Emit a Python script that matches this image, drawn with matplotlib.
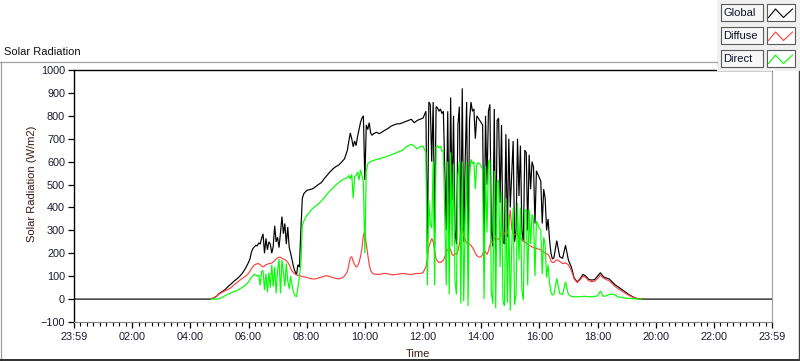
import numpy as np
import matplotlib
matplotlib.use("Agg")
import matplotlib.pyplot as plt
from matplotlib.ticker import MultipleLocator, FixedLocator, FixedFormatter
from matplotlib.patches import Rectangle

plt.rcParams['font.family'] = ['Liberation Sans', 'DejaVu Sans']

nan = np.nan

# ---------------- data ----------------
# sampling grid, minutes after midnight
time_min = np.concatenate([
    [0, 282],
    np.arange(288, 360, 6),
    np.arange(360, 474, 3),
    np.arange(474, 564, 6),
    np.arange(564, 618, 3),
    np.arange(618, 726, 6),
    np.arange(726, 990, 3),
    np.arange(990, 1170, 6),
    [1170, 1440],
])

global_wm2 = [
    0, 0,
    5, 12, 25, 33, 42, 55, 66, 78, 88, 100, 115, 135,
    160, 175, 205, 220, 228, 235, 232, 245, 240, 265, 285, 200, 265, 215, 250, 240, 200, 230, 320, 250,
    270, 225, 290, 360, 285, 330, 240, 315, 225, 200, 170, 140, 120, 105, 150, 140, 300, 440,
    460, 474, 478, 481, 490, 500, 508, 525, 540, 555, 568, 578, 585, 598, 612,
    650, 690, 725, 700, 665, 690, 670, 710, 740, 770, 790, 800, 520, 760, 740, 770, 725, 715,
    722, 728, 722, 730, 738, 745, 755, 760, 765, 765, 770, 775, 780, 785, 770, 780, 785, 790,
    820, 200, 860, 850, 600, 860, 290, 840, 835, 820, 830, 810, 820, 560, 300, 820, 250, 880, 430, 800,
    300, 240, 760, 840, 260, 920, 250, 600, 860, 220, 780, 860, 820, 830, 700, 800, 790, 780, 770, 760,
    220, 800, 500, 820, 850, 300, 230, 830, 190, 780, 790, 420, 760, 250, 240, 720, 270, 700, 400, 550,
    690, 250, 300, 700, 450, 670, 300, 250, 650, 640, 300, 630, 480, 600, 575, 330, 560, 545, 530, 515,
    330, 480, 440, 300, 350, 260, 200, 175,
    180, 255, 185, 178, 235, 170, 140, 92, 75, 88, 108, 100, 86, 83, 85, 100, 115, 98, 92, 88,
    76, 63, 54, 45, 36, 27, 18, 11, 5, 1,
    0, 0,
]

diffuse_wm2 = [
    nan, 0,
    5, 12, 23, 30, 37, 42, 50, 62, 72, 82, 92, 100,
    112, 122, 132, 142, 148, 152, 154, 155, 150, 145, 140, 145, 150, 152, 155, 155, 158, 162, 168, 175,
    180, 183, 182, 178, 175, 172, 168, 160, 150, 135, 122, 115, 110, 106, 104, 103, 100, 98,
    97, 95, 90, 88, 88, 92, 96, 100, 102, 98, 94, 90, 88, 92, 100,
    120, 150, 180, 185, 165, 150, 140, 145, 160, 185, 220, 280, 295, 240, 195, 150, 125, 115,
    110, 108, 108, 110, 112, 110, 107, 106, 108, 110, 112, 110, 108, 108, 110, 112, 112, 115,
    140, 175, 230, 245, 265, 250, 215, 175, 165, 160, 160, 165, 170, 185, 205, 215, 225, 215, 195, 190,
    200, 195, 210, 240, 290, 310, 280, 260, 245, 240, 240, 235, 225, 215, 200, 190, 185, 183, 185, 195,
    215, 205, 195, 210, 235, 255, 245, 265, 275, 265, 260, 270, 285, 280, 290, 275, 285, 330, 390, 310,
    285, 280, 285, 278, 270, 265, 260, 255, 250, 245, 240, 235, 230, 228, 225, 222, 220, 219, 218, 214,
    210, 205, 200, 197, 195, 185, 165, 160,
    160, 172, 165, 155, 158, 150, 125, 88, 72, 84, 100, 94, 80, 76, 78, 90, 105, 92, 85, 80,
    68, 55, 46, 38, 30, 22, 15, 9, 4, 1,
    0, nan,
]

direct_wm2 = [
    nan, 0,
    0, 0, 2, 8, 15, 22, 28, 33, 37, 45, 52, 62,
    75, 85, 95, 103, 108, 105, 100, 105, 60, 120, 125, 40, 110, 30, 115, 50, 150, 55, 140, 25,
    125, 175, 25, 170, 120, 55, 155, 80, 45, 100, 60, 30, 15, 10, 50, 100, 150, 320,
    340, 365, 380, 395, 405, 415, 428, 442, 458, 472, 485, 498, 508, 518, 525,
    530, 540, 525, 545, 440, 535, 540, 555, 520, 565, 540, 510, 200, 560, 590, 597, 600, 603,
    605, 610, 612, 617, 620, 625, 630, 634, 640, 645, 650, 662, 670, 676, 668, 655, 665, 668,
    640, 60, 430, 330, 310, 600, 60, 665, 670, 660, 668, 645, 650, 350, 60, 600, 20, 640, 230, 590,
    80, 20, 540, 600, -20, 600, -10, 340, 600, -30, 530, 610, 590, 600, 480, 590, 595, 590, 580, 565,
    0, 580, 290, 600, 610, 30, -20, 560, -40, 510, 520, 140, 470, -10, -30, 440, -15, 370, -50, 230,
    400, -25, 20, 420, 170, 400, 40, -5, 390, 390, 60, 390, 240, 370, 345, 100, 340, 325, 310, 300,
    110, 270, 235, 95, 150, 70, 30, 18,
    20, 90, 25, 20, 75, 20, 12, 10, 10, 10, 12, 12, 10, 10, 12, 14, 35, 12, 14, 20,
    22, 18, 10, 8, 5, 4, 3, 2, 1, 0,
    0, nan,
]

series_names = ['Global', 'Diffuse', 'Direct']
series_colors = ['#000000', '#ff4040', '#00ff00']
x_tick_hours = list(range(0, 25, 2))
x_tick_labels = ['23:59'] + ['%02d:00' % h for h in range(2, 24, 2)] + ['23:59']
y_ticks = list(range(-100, 1001, 100))

time_h = time_min / 60.0
assert len(time_h) == len(global_wm2) == len(diffuse_wm2) == len(direct_wm2)

# ---------------- figure ----------------
W, H = 800, 361
fig = plt.figure(figsize=(W / 100, H / 100), dpi=100)
fig.patch.set_facecolor('white')

ax = fig.add_axes([74 / W, 1 - 322 / H, (772 - 74) / W, (322 - 70) / H])
ax.set_facecolor('white')

for vals, col in zip([global_wm2, diffuse_wm2, direct_wm2], series_colors):
    ax.plot(time_h, vals, color=col, lw=0.85, solid_joinstyle='miter')

ax.set_xlim(0, 24)
ax.set_ylim(-100, 1000)
ax.xaxis.set_major_locator(FixedLocator(x_tick_hours))
ax.xaxis.set_major_formatter(FixedFormatter(x_tick_labels))
ax.xaxis.set_minor_locator(MultipleLocator(2 / 9))
ax.yaxis.set_major_locator(FixedLocator(y_ticks))

tick_color = '#1a1a30'
ax.tick_params(axis='both', which='major', direction='out', length=4.2, width=0.9,
               color='black', labelcolor=tick_color, labelsize=7.8, pad=2.2)
ax.tick_params(axis='x', which='minor', direction='out', length=2.8, width=0.8, color='black')
ax.tick_params(axis='x', which='major', pad=3.0)

ax.spines['top'].set_color('black')
ax.spines['left'].set_color('black')
ax.spines['top'].set_linewidth(1.0)
ax.spines['left'].set_linewidth(1.0)
ax.spines['right'].set_color('#a0a0a0')
ax.spines['bottom'].set_color('#808080')
ax.spines['right'].set_linewidth(0.8)
ax.spines['bottom'].set_linewidth(0.8)

label_color = '#3a1a10'
fig.text(32 / W, 1 - 184 / H, 'Solar Radiation (W/m2)', rotation=90, ha='center', va='center',
         fontsize=8, color=label_color)
fig.text(418 / W, 1 - 354 / H, 'Time', ha='center', va='center', fontsize=8, color=label_color)
fig.text(4 / W, 1 - 55 / H, 'Solar Radiation', ha='left', va='baseline', fontsize=8, color='#101010')

# ---------------- frame and legend (pixel overlay) ----------------
ov = fig.add_axes([0, 0, 1, 1], zorder=5)
ov.set_xlim(0, W)
ov.set_ylim(H, 0)
ov.axis('off')
ov.patch.set_alpha(0)

ov.plot([0, 717], [61.5, 61.5], color='#a0a0a0', lw=0.9)
ov.plot([0.5, 0.5], [61.5, 361], color='#a0a0a0', lw=0.9)
ov.plot([0, 800], [359.8, 359.8], color='#202020', lw=1.3)
ov.plot([798.8, 798.8], [71, 361], color='#404040', lw=1.0)

ov.add_patch(Rectangle((717, 0), 83, 71, facecolor='#f0f0f0', edgecolor='none'))
row_tops = [4, 27, 50]
for top, name, col in zip(row_tops, series_names, series_colors):
    ov.add_patch(Rectangle((721, top), 42, 17, facecolor='#f7f7f7', edgecolor='#5a5a5a', lw=0.8))
    ov.text(723.5, top + 9, name, ha='left', va='center', fontsize=8, color='#10102a')
    ov.add_patch(Rectangle((767, top), 28, 17, facecolor='white', edgecolor='#5a5a5a', lw=0.8))
    ov.plot([768.5, 775.5, 783.5, 792.5], [top + 13.5, top + 5, top + 13.5, top + 5], color=col, lw=0.8)

fig.savefig('out.png', dpi=100, facecolor='white')
